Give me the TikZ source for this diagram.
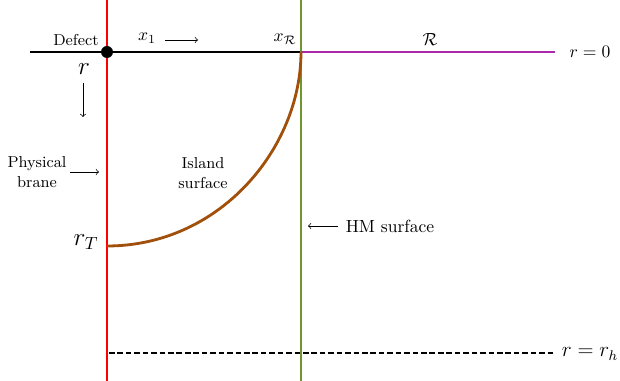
\documentclass[tikz,border=0pt]{standalone}
\usepackage{amsmath, amssymb}
\usepackage{tikz}
\usetikzlibrary{positioning}

\definecolor{islandbrown}{RGB}{160,80,10}
\definecolor{hmgreen}{RGB}{110,150,45}
\definecolor{radmagenta}{RGB}{170,40,170}

\begin{document}
\begin{tikzpicture}[x=0.02cm,y=-0.02cm]
			
			\useasboundingbox (0,0) rectangle (620,381);
			
			\coordinate (left) at (30,52);
			\coordinate (defect) at (107,52);
			\coordinate (xR) at (301,52);
			\coordinate (Rend) at (555,52);
			\coordinate (rT) at (107,246);
			\coordinate (braneTop) at (107,0);
			\coordinate (braneBot) at (107,381);
			\coordinate (hmTop) at (301,0);
			\coordinate (hmBot) at (301,381);
			\coordinate (hLeft) at (109,353);
			\coordinate (hRight) at (553,353);
			
			\draw[line width=0.9pt] (left)-- (xR);
			\draw[red,line width=0.9pt] (braneTop)-- (braneBot);
			\draw[hmgreen,line width=1pt] (hmTop)-- (hmBot);
			\draw[radmagenta,line width=1.3pt] (xR)-- (Rend);
			\draw[line width=0.9pt,dash pattern=on 3.2pt off 1.6pt] (hLeft)-- (hRight);
			\draw[islandbrown,line width=1.6pt] (xR) .. controls (301,148) and (220,246) .. (rT);
			\fill (defect) circle (0.12cm);
			
			\node[font=\small] (deflab) at (76,40) {Defect};
			\node (x1) at (147,38) {$x_1$};
			\coordinate (x1a) at (165,40);
			\coordinate (x1b) at (198,40);
			\draw[->] (x1a)-- (x1b);
			\node (xRlab) at (285,39) {$x_{\mathcal{R}}$};
			\node (Rlab) at (430,40) {$\mathcal{R}$};
			\node (r0) at (590,52) {$r=0$};
			\node[font=\large] (rh) at (590,354) {$r=r_h$};
			
			\node[font=\Large] (rlab) at (84,69) {$r$};
			\coordinate (ra) at (83,83);
			\coordinate (rb) at (83,117);
			\draw[->] (ra)-- (rb);
			
			\node[font=\small,align=center] (brane) at (37,172) {Physical\\brane};
			\coordinate (bra) at (70,172);
			\coordinate (brb) at (99,172);
			\draw[->] (bra)-- (brb);
			
			\node[font=\small,align=center] (island) at (203,173) {Island\\surface};
			\node[font=\Large] (rTlab) at (86,242) {$r_T$};
			
			\coordinate (hma) at (338,226);
			\coordinate (hmb) at (308,226);
			\draw[->] (hma)-- (hmb);
			\node (hm) at (390,226) {HM surface};
			
		\end{tikzpicture}
\end{document}
